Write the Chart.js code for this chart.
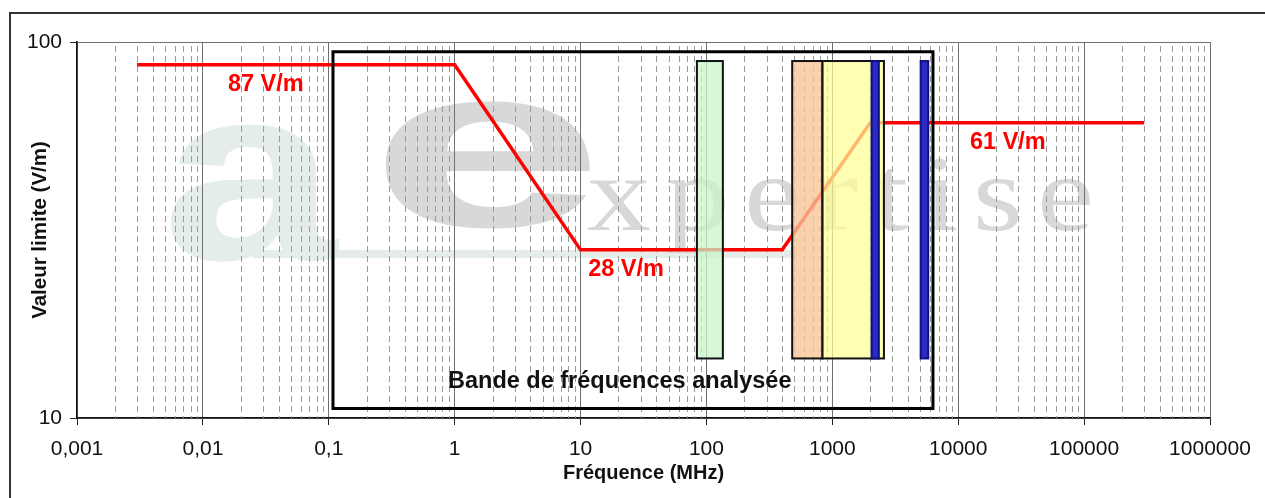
<!DOCTYPE html>
<html>
<head>
<meta charset="utf-8">
<script src="https://cdn.jsdelivr.net/npm/chart.js@4.4.1/dist/chart.umd.min.js"></script>
<style>
    html, body { margin: 0; padding: 0; background: #ffffff; }
    #wrap { width: 1265px; height: 498px; position: relative; }
</style>
</head>
<body>
<div id="wrap"><canvas id="chart" width="1265" height="498"></canvas></div>
<script>
// Limite ICNIRP (V/m) en fonction de la fréquence (MHz)
const limitFreq = [0.003, 1, 10, 400, 2000, 300000];
const limitValue = [87, 87, 28, 28, 61, 61];

// Bandes mesurées (MHz)
const bandStart = [84, 480, 835, 2050, 5030];
const bandEnd = [135, 835, 2570, 2340, 5780];
const bandLow = [14.4, 14.4, 14.4, 14.4, 14.4];
const bandHigh = [89, 89, 89, 89, 89];
const bandFill = ['rgba(200,245,200,0.75)', 'rgba(248,196,150,0.78)', 'rgba(255,255,150,0.72)', '#2a2ac4', '#2a2ac4'];
const bandLine = ['#111', '#111', '#111', '#101080', '#101080'];

// Cadre "Bande de fréquences analysée"
const boxFreq = [0.108, 6300];
const boxValue = [10.6, 94.2];

const xTicks = [0.001, 0.01, 0.1, 1, 10, 100, 1000, 10000, 100000, 1000000];
const xTickLabels = ['0,001', '0,01', '0,1', '1', '10', '100', '1000', '10000', '100000', '1000000'];
const yTicks = [10, 100];
const yTickLabels = ['10', '100'];

const notes = [
    { text: '87 V/m', x: 0.0158, y: 76.9, color: '#ff0000', size: 23.5 },
    { text: '28 V/m', x: 11.5, y: 24.8, color: '#ff0000', size: 23.5 },
    { text: '61 V/m', x: 12400, y: 53.9, color: '#ff0000', size: 23.5 },
    { text: 'Bande de fréquences analysée', x: 0.885, y: 12.5, color: '#111111', size: 23.5 },
];

const FONT = "'Liberation Sans', Arial, sans-serif";

// logo "ae expertise" en filigrane
const watermark = {
    id: 'watermark',
    beforeDraw(chart) {
        const { ctx, chartArea: a } = chart;
        const w = a.right - a.left, h = a.bottom - a.top;
        ctx.save();
        ctx.textBaseline = 'alphabetic';
        ctx.fillStyle = '#e4ede8';
        ctx.fillRect(a.left + w * 0.155, a.top + h * 0.553, w * 0.48, 8);
        ctx.font = "bold 250px 'Liberation Sans', sans-serif";
        ctx.save();
        ctx.translate(a.left + w * 0.075, a.top + h * 0.578);
        ctx.scale(1.26, 1.0);
        ctx.fillText('a', 0, 0);
        ctx.restore();
        ctx.fillStyle = '#d8d8d8';
        ctx.font = "bold 232px 'Liberation Sans', sans-serif";
        ctx.save();
        ctx.translate(a.left + w * 0.258, a.top + h * 0.49);
        ctx.scale(1.82, 1.0);
        ctx.fillText('e', 0, 0);
        ctx.restore();
        ctx.save();
        ctx.font = "107px 'Liberation Serif', serif";
        ctx.letterSpacing = '12px';
        ctx.translate(a.left + w * 0.45, a.top + h * 0.5);
        ctx.scale(1.2, 1.0);
        ctx.fillText('xpertise', 0, 0);
        ctx.restore();
        ctx.restore();
    },
};

const minorGrid = {
    id: 'minorGrid',
    beforeDatasetsDraw(chart) {
        const { ctx, chartArea: a, scales: { x } } = chart;
        ctx.save();
        ctx.strokeStyle = '#9a9a9a';
        ctx.lineWidth = 1;
        ctx.setLineDash([6, 4]);
        for (let k = 0; k < xTicks.length - 1; k++) {
            for (let m = 2; m <= 9; m++) {
                const px = Math.round(x.getPixelForValue(m * xTicks[k])) + 0.5;
                ctx.beginPath();
                ctx.moveTo(px, a.top + 4);
                ctx.lineTo(px, a.bottom);
                ctx.stroke();
            }
        }
        ctx.restore();
    },
};

const overlays = {
    id: 'overlays',
    afterDatasetsDraw(chart) {
        const { ctx, scales: { x, y } } = chart;
        ctx.save();
        // bandes
        for (let i = 0; i < bandStart.length; i++) {
            const x0 = x.getPixelForValue(bandStart[i]);
            const x1 = x.getPixelForValue(bandEnd[i]);
            const y0 = y.getPixelForValue(bandHigh[i]);
            const y1 = y.getPixelForValue(bandLow[i]);
            ctx.fillStyle = bandFill[i];
            ctx.fillRect(x0, y0, x1 - x0, y1 - y0);
            ctx.strokeStyle = bandLine[i];
            ctx.lineWidth = 2;
            ctx.strokeRect(x0, y0, x1 - x0, y1 - y0);
        }
        // cadre analysé
        const bx0 = x.getPixelForValue(boxFreq[0]);
        const bx1 = x.getPixelForValue(boxFreq[1]);
        const by0 = y.getPixelForValue(boxValue[1]);
        const by1 = y.getPixelForValue(boxValue[0]);
        ctx.strokeStyle = '#000';
        ctx.lineWidth = 3;
        ctx.strokeRect(bx0, by0, bx1 - bx0, by1 - by0);
        // textes
        ctx.textAlign = 'left';
        ctx.textBaseline = 'middle';
        notes.forEach(n => {
            ctx.font = `bold ${n.size}px ${FONT}`;
            ctx.fillStyle = n.color;
            ctx.fillText(n.text, x.getPixelForValue(n.x), y.getPixelForValue(n.y));
        });
        ctx.restore();
    },
    afterDraw(chart) {
        const { ctx } = chart;
        ctx.save();
        ctx.strokeStyle = '#333';
        ctx.lineWidth = 2;
        ctx.strokeRect(10, 13, 1400, 600);
        ctx.restore();
    },
};

new Chart(document.getElementById('chart'), {
    type: 'scatter',
    data: {
        datasets: [{
            data: limitFreq.map((f, i) => ({ x: f, y: limitValue[i] })),
            showLine: true,
            borderColor: '#ff0000',
            borderWidth: 3.5,
            pointRadius: 0,
            tension: 0,
        }],
    },
    options: {
        responsive: false,
        animation: false,
        layout: { padding: { left: 0, right: 55, top: 42, bottom: 0 } },
        plugins: { legend: { display: false }, tooltip: { enabled: false } },
        scales: {
            x: {
                type: 'logarithmic',
                min: 0.001,
                max: 1000000,
                afterBuildTicks: axis => { axis.ticks = xTicks.map(v => ({ value: v })); },
                afterFit: axis => { axis.height = 80; },
                ticks: {
                    autoSkip: false,
                    maxRotation: 0,
                    padding: 12,
                    color: '#111',
                    font: { family: FONT, size: 21 },
                    callback: (v, i) => xTickLabels[i],
                },
                grid: { color: '#707070', lineWidth: 1, tickLength: 7, tickColor: '#222' },
                border: { color: '#111', width: 1.5 },
                title: {
                    display: true,
                    text: 'Fréquence (MHz)',
                    color: '#111',
                    font: { family: FONT, size: 20, weight: 'bold' },
                    padding: { top: 0, bottom: 13 },
                },
            },
            y: {
                type: 'logarithmic',
                min: 10,
                max: 100,
                afterBuildTicks: axis => { axis.ticks = yTicks.map(v => ({ value: v })); },
                afterFit: axis => { axis.width = 77; },
                ticks: {
                    padding: 8,
                    color: '#111',
                    font: { family: FONT, size: 21 },
                    callback: (v, i) => yTickLabels[i],
                },
                grid: { color: '#707070', lineWidth: 1, tickLength: 7, tickColor: '#222' },
                border: { color: '#111', width: 1.5 },
                title: {
                    display: true,
                    text: 'Valeur limite (V/m)',
                    color: '#111',
                    font: { family: FONT, size: 20.5, weight: 'bold' },
                    padding: { top: 28, bottom: 0 },
                },
            },
        },
    },
    plugins: [watermark, minorGrid, overlays],
});
</script>
</body>
</html>
